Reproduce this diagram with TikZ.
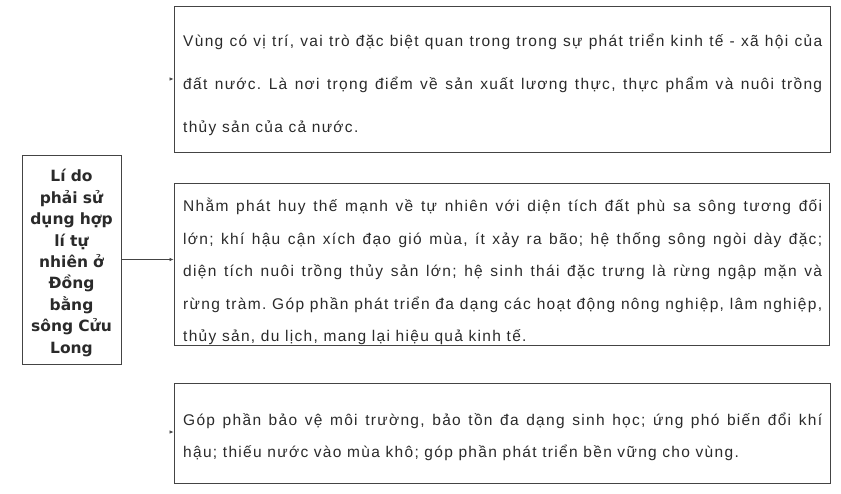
\documentclass[tikz,border=0pt]{standalone}
\usepackage{fontspec}
\setmainfont{Liberation Sans}[LetterSpace=8.5]
\newfontfamily\boxfont{DejaVu Sans}
\usetikzlibrary{arrows.meta}
\frenchspacing
\definecolor{edgegray}{HTML}{444444}
\definecolor{txtgray}{HTML}{2A2A2A}
\tikzset{
  framebox/.style={draw=edgegray, line width=0.9pt, inner sep=0pt},
  bodytext/.style={anchor=base west, inner sep=0pt, text width=639pt, align=justify,
    font=\fontsize{15.5}{32.4}\selectfont, text=txtgray},
  link/.style={draw=edgegray, line width=0.6pt, -{Latex[length=4pt,width=3.5pt]}},
  hiddenlink/.style={draw=white, line width=0.6pt, -{Latex[length=4pt,width=3.5pt,color=edgegray,fill=edgegray]}}
}
\begin{document}
\begin{tikzpicture}[x=1pt,y=-1pt]
\useasboundingbox (0,0) rectangle (841,494);
% boxes
\draw[framebox] (22,155) rectangle (121,364);
\node[inner sep=0pt, minimum width=99pt, minimum height=209pt] (left) at (71.5,259.5) {};
\node[framebox, minimum width=656pt, minimum height=146pt] (top) at (502,79) {};
\node[framebox, minimum width=655pt, minimum height=162pt] (mid) at (501.5,264) {};
\node[framebox, minimum width=656pt, minimum height=100pt] (bot) at (502,433) {};
% left text
\node[anchor=base, inner sep=0pt, text width=96pt, align=center,
  font=\boxfont\bfseries\fontsize{15.5}{21.4}\selectfont, text=txtgray] (lefttext) at (71.5,182)
  {Lí do\\ phải sử\\ dụng hợp\\ lí tự\\ nhiên ở\\ Đồng\\ bằng\\ sông Cửu\\ Long};
% texts
\node[bodytext, font=\fontsize{15.5}{43}\selectfont] (toptext) at (183,47)
  {Vùng có vị trí, vai trò đặc biệt quan trong trong sự phát triển kinh tế - xã hội của\linebreak
   đất nước. Là nơi trọng điểm về sản xuất lương thực, thực phẩm và nuôi trồng\linebreak
   thủy sản của cả nước.};
\node[bodytext] (midtext) at (183,212)
  {Nhằm phát huy thế mạnh về tự nhiên với diện tích đất phù sa sông tương đối\linebreak
   lớn; khí hậu cận xích đạo gió mùa, ít xảy ra bão; hệ thống sông ngòi dày đặc;\linebreak
   diện tích nuôi trồng thủy sản lớn; hệ sinh thái đặc trưng là rừng ngập mặn và\linebreak
   rừng tràm. Góp phần phát triển đa dạng các hoạt động nông nghiệp, lâm nghiệp,\linebreak
   thủy sản, du lịch, mang lại hiệu quả kinh tế.};
\node[bodytext, font=\fontsize{15.5}{32}\selectfont] (bottext) at (183,425)
  {Góp phần bảo vệ môi trường, bảo tồn đa dạng sinh học; ứng phó biến đổi khí\linebreak
   hậu; thiếu nước vào mùa khô; góp phần phát triển bền vững cho vùng.};
% connectors
\coordinate (ja) at (160,79);
\coordinate (jb) at (160,432);
\draw[link] (left.east) -- (left.east -| mid.west);
\draw[hiddenlink] (ja) -- (top.west);
\draw[hiddenlink] (jb) -- (jb -| bot.west);
\end{tikzpicture}
\end{document}
